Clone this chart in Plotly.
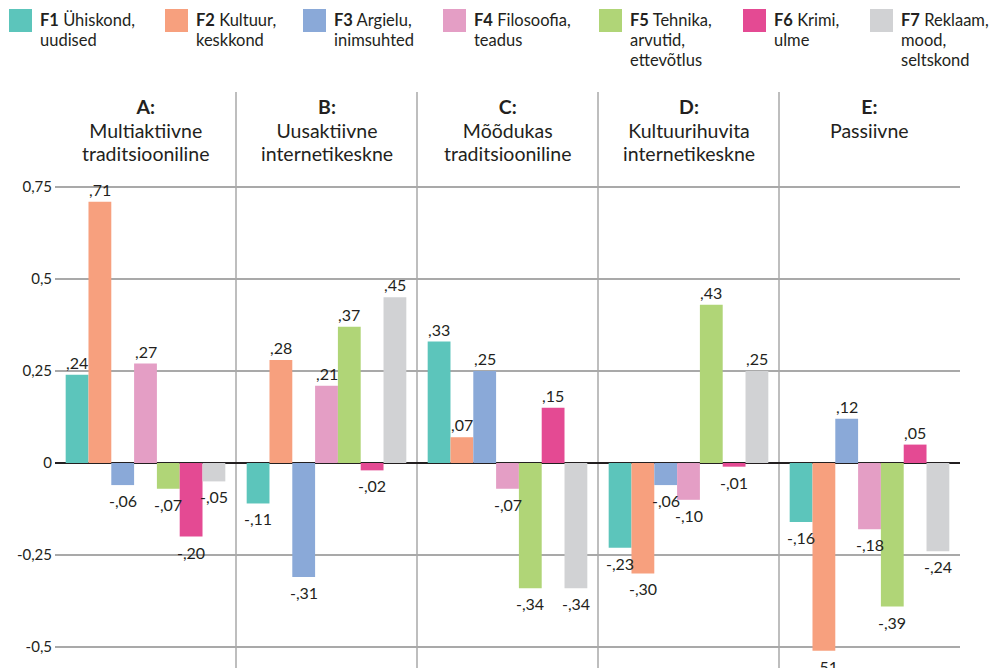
import plotly.graph_objects as go

# --- data -------------------------------------------------------------
group_codes = ["A:", "B:", "C:", "D:", "E:"]
group_names = [
    ["Multiaktiivne", "traditsiooniline"],
    ["Uusaktiivne", "internetikeskne"],
    ["Mõõdukas", "traditsiooniline"],
    ["Kultuurihuvita", "internetikeskne"],
    ["Passiivne"],
]
factor_codes = ["F1", "F2", "F3", "F4", "F5", "F6", "F7"]
factor_labels = [
    ["Ühiskond,", "uudised"],
    ["Kultuur,", "keskkond"],
    ["Argielu,", "inimsuhted"],
    ["Filosoofia,", "teadus"],
    ["Tehnika,", "arvutid,", "ettevõtlus"],
    ["Krimi,", "ulme"],
    ["Reklaam,", "mood,", "seltskond"],
]
# factor scores per group (A..E)
f1 = [0.24, -0.11, 0.33, -0.23, -0.16]
f2 = [0.71, 0.28, 0.07, -0.30, -0.51]
f3 = [-0.06, -0.31, 0.25, -0.06, 0.12]
f4 = [0.27, 0.21, -0.07, -0.10, -0.18]
f5 = [-0.07, 0.37, -0.34, 0.43, -0.39]
f6 = [-0.20, -0.02, 0.15, -0.01, 0.05]
f7 = [-0.05, 0.45, -0.34, 0.25, -0.24]
series = [f1, f2, f3, f4, f5, f6, f7]

tick_vals = [0.75, 0.5, 0.25, 0, -0.25, -0.5]
tick_text = ["0,75", "0,5", "0,25", "0", "-0,25", "-0,5"]

# --- styling ----------------------------------------------------------
colors = ["#5cc5bb", "#f7a07e", "#8aa9d8", "#e49ec5", "#b0d577", "#e44a93", "#d1d2d4"]
TXT = "#231f20"
GRID = "#a9a9a9"
FONT = "Lato"
W, H = 996, 668
ML, MR, MT, MB = 55, 36, 92, 0
bar_w = 0.126
y_range = [-0.557, 1.008]
legend_px = [9, 165, 303, 443, 599, 743, 870]


def px_x(px):
    return (px - ML) / (W - ML - MR)


def px_y(py):
    return (H - MB - py) / (H - MT - MB)


def fmt(v):
    s = f"{abs(v):.2f}"[1:].replace(".", ",")
    return ("-" if v < 0 else "") + s


def tight_lines(lines, size):
    # glyphs drawn at `size`, line pitch set by the annotation font
    return "<br>".join(f"<span style='font-size:{size}px'>{ln}</span>" for ln in lines)


fig = go.Figure()
annotations = []
shapes = []

for j, vals in enumerate(series):
    xs = [i + (j - 3) * bar_w for i in range(len(vals))]
    fig.add_trace(go.Bar(
        x=xs, y=vals, width=bar_w, marker=dict(color=colors[j], line=dict(width=0)),
        name=factor_codes[j], showlegend=False, hoverinfo="y",
    ))
    for x, v in zip(xs, vals):
        annotations.append(dict(
            x=x, y=v, xref="x", yref="y", text=fmt(v), showarrow=False,
            yanchor="bottom" if v >= 0 else "top",
            yshift=1 if v >= 0 else -4,
            font=dict(family=FONT, size=16, color=TXT),
        ))

# group separators
for k in range(1, len(group_codes)):
    shapes.append(dict(type="line", xref="x", yref="paper", x0=k - 0.5, x1=k - 0.5,
                       y0=0, y1=1, line=dict(color=GRID, width=1.5), layer="below"))

# group titles
for i, (code, name) in enumerate(zip(group_codes, group_names)):
    lines = [f"<b>{code}</b>"] + name
    annotations.append(dict(
        x=i, y=px_y(94), xref="x", yref="paper", text=tight_lines(lines, 19.5),
        showarrow=False, xanchor="center", yanchor="top", align="center",
        borderpad=0, font=dict(family=FONT, size=18.1, color=TXT),
    ))

# legend
for j, code in enumerate(factor_codes):
    x0 = legend_px[j]
    shapes.append(dict(type="rect", xref="paper", yref="paper",
                       x0=px_x(x0), x1=px_x(x0 + 23), y0=px_y(32), y1=px_y(9),
                       fillcolor=colors[j], line=dict(width=0)))
    lines = [f"<b>{code}</b> {factor_labels[j][0]}"] + factor_labels[j][1:]
    annotations.append(dict(
        x=px_x(x0 + 30), y=px_y(9), xref="paper", yref="paper",
        text=tight_lines(lines, 16.5), showarrow=False, xanchor="left", yanchor="top",
        align="left", borderpad=0, font=dict(family=FONT, size=15.3, color=TXT),
    ))

fig.update_layout(
    width=W, height=H, margin=dict(l=ML, r=MR, t=MT, b=MB),
    paper_bgcolor="white", plot_bgcolor="white",
    barmode="overlay", showlegend=False,
    font=dict(family=FONT, color=TXT),
    xaxis=dict(range=[-0.5, 4.5], showgrid=False, zeroline=False,
               showticklabels=False, ticks="", fixedrange=True),
    yaxis=dict(range=y_range, tickvals=tick_vals, ticktext=tick_text,
               showgrid=True, gridcolor=GRID, gridwidth=1.5,
               zeroline=True, zerolinecolor=TXT, zerolinewidth=1.5,
               ticks="", ticklabelstandoff=2,
               tickfont=dict(family=FONT, size=15, color=TXT)),
    annotations=annotations, shapes=shapes,
)

fig.write_html("out.html")
